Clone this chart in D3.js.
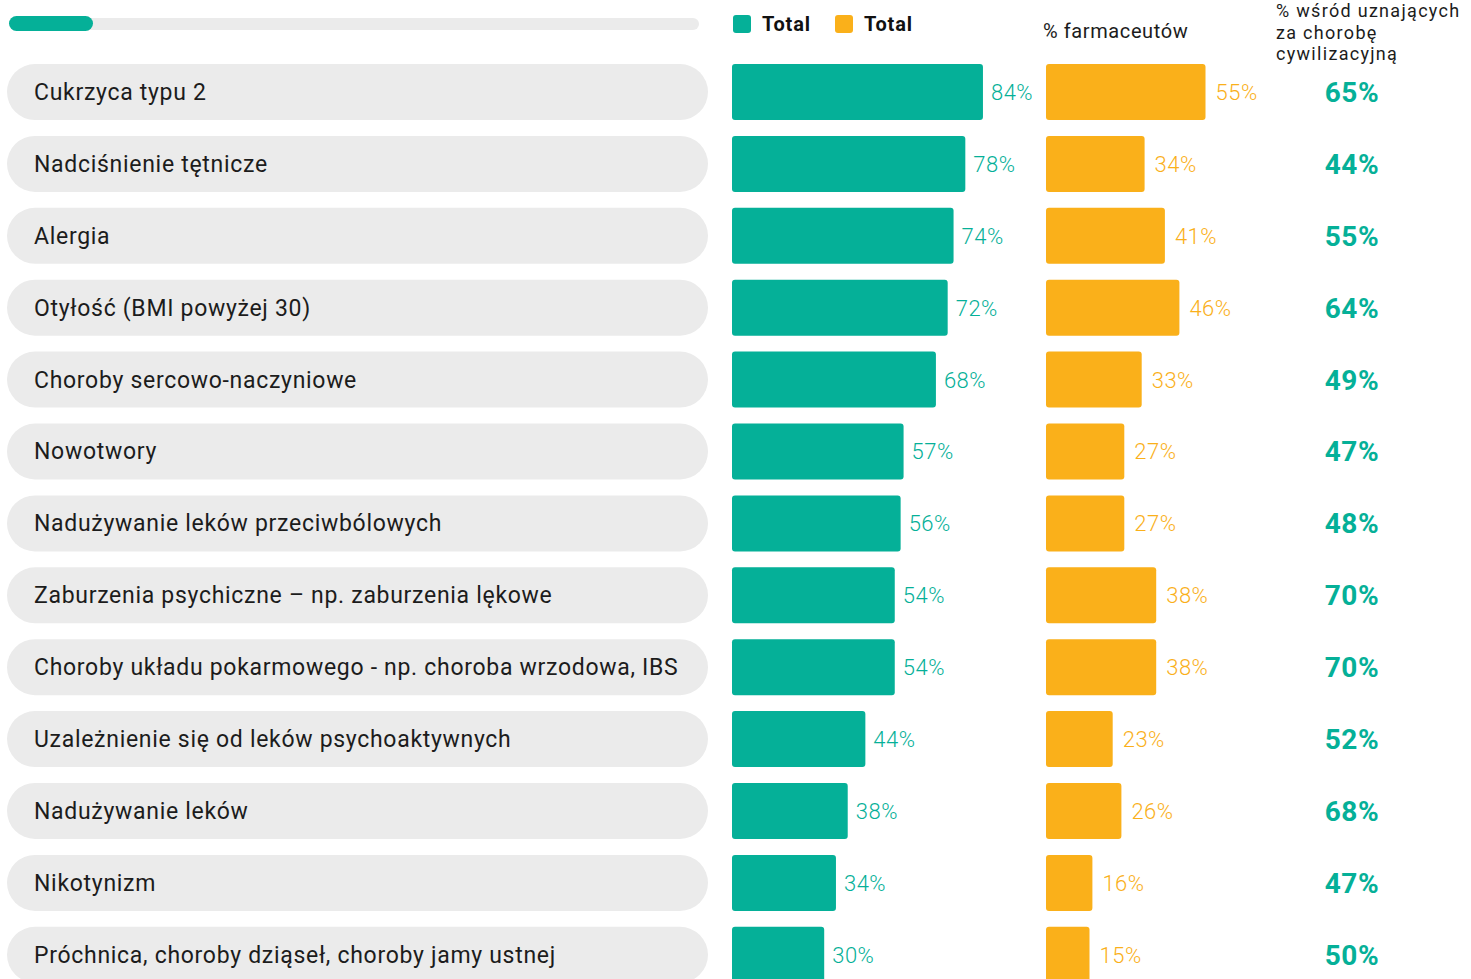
<!DOCTYPE html>
<html>
<head>
<meta charset="utf-8">
<script src="https://cdn.jsdelivr.net/npm/d3@7"></script>
<style>
  html, body { margin: 0; padding: 0; background: #fff; }
  svg { display: block; font-family: Roboto, "Noto Sans", sans-serif; }
</style>
</head>
<body>
<svg id="chart" width="1471" height="979"></svg>
<script>
const categories = [
  "Cukrzyca typu 2",
  "Nadciśnienie tętnicze",
  "Alergia",
  "Otyłość (BMI powyżej 30)",
  "Choroby sercowo-naczyniowe",
  "Nowotwory",
  "Nadużywanie leków przeciwbólowych",
  "Zaburzenia psychiczne – np. zaburzenia lękowe",
  "Choroby układu pokarmowego - np. choroba wrzodowa, IBS",
  "Uzależnienie się od leków psychoaktywnych",
  "Nadużywanie leków",
  "Nikotynizm",
  "Próchnica, choroby dziąseł, choroby jamy ustnej"
];
const totalAll = [84, 78, 74, 72, 68, 57, 56, 54, 54, 44, 38, 34, 30];
const pharmacists = [55, 34, 41, 46, 33, 27, 27, 38, 38, 23, 26, 16, 15];
const civilisation = [65, 44, 55, 64, 49, 47, 48, 70, 70, 52, 68, 47, 50];
const legendLabels = ["Total", "Total"];
const headerPharm = "% farmaceutów";
const headerCiv = ["% wśród uznających", "za chorobę", "cywilizacyjną"];

const TEAL = "#05b098";
const ORANGE = "#fab01a";
const PILL = "#ebebeb";
const INK = "#1c1c1c";

const svg = d3.select("#chart");

const rows = categories.map((c, i) => ({
  cat: c, a: totalAll[i], b: pharmacists[i], c: civilisation[i]
}));

const y = d3.scaleBand()
  .domain(categories)
  .range([64, 64 + 12 * 71.9 + 56])
  .paddingInner(0.221)
  .paddingOuter(0);

// teal bars share a fixed left edge; their length grows from a small stub
const A_LEFT = 732;
const xA = d3.scaleLinear().domain([0, 100]).range([736, 1030]);
const xB = d3.scaleLinear().domain([0, 100]).range([1046, 1336]);

// progress indicator at the top
svg.append("rect")
  .attr("x", 9).attr("y", 18).attr("width", 690).attr("height", 12)
  .attr("rx", 6).attr("fill", PILL);
svg.append("rect")
  .attr("x", 9).attr("y", 16).attr("width", 84).attr("height", 15)
  .attr("rx", 7.5).attr("fill", TEAL);

// legend
const legend = svg.append("g");
[[733, TEAL], [835, ORANGE]].forEach(([lx, col], i) => {
  legend.append("rect")
    .attr("x", lx).attr("y", 15).attr("width", 18).attr("height", 18)
    .attr("rx", 3).attr("fill", col);
  legend.append("text")
    .attr("x", lx + 29).attr("y", 31)
    .attr("font-size", 20).attr("font-weight", 700).attr("fill", "#111")
    .attr("letter-spacing", 0.8)
    .text(legendLabels[i]);
});

// column headers
svg.append("text")
  .attr("x", 1043).attr("y", 38)
  .attr("font-size", 20).attr("fill", INK).attr("letter-spacing", 0.6)
  .text(headerPharm);
svg.append("text")
  .attr("x", 1276).attr("y", 17)
  .attr("font-size", 18).attr("fill", INK).attr("letter-spacing", 1.3)
  .selectAll("tspan").data(headerCiv).join("tspan")
  .attr("x", 1276).attr("dy", (d, i) => i === 0 ? 0 : 21.5)
  .text(d => d);

const g = svg.append("g").selectAll("g").data(rows).join("g")
  .attr("transform", d => `translate(0,${y(d.cat)})`);

const h = y.bandwidth();

// category pills
g.append("rect")
  .attr("x", 7).attr("y", 0).attr("width", 701).attr("height", h)
  .attr("rx", h / 2).attr("fill", PILL);
g.append("text")
  .attr("x", 34).attr("y", h / 2 + 8)
  .attr("font-size", 23).attr("fill", INK).attr("letter-spacing", 0.7)
  .text(d => d.cat);

// total bars
g.append("rect")
  .attr("x", A_LEFT).attr("y", 0)
  .attr("width", d => xA(d.a) - A_LEFT).attr("height", h)
  .attr("rx", 3).attr("fill", TEAL);
g.append("text")
  .attr("x", d => xA(d.a) + 8).attr("y", h / 2 + 8)
  .attr("font-size", 22).attr("font-weight", 300).attr("fill", TEAL)
  .attr("letter-spacing", 0.5)
  .text(d => d.a + "%");

// pharmacist bars
g.append("rect")
  .attr("x", xB(0)).attr("y", 0)
  .attr("width", d => xB(d.b) - xB(0)).attr("height", h)
  .attr("rx", 3).attr("fill", ORANGE);
g.append("text")
  .attr("x", d => xB(d.b) + 10).attr("y", h / 2 + 8)
  .attr("font-size", 22).attr("font-weight", 300).attr("fill", ORANGE)
  .attr("letter-spacing", 0.5)
  .text(d => d.b + "%");

// share among those who consider it a civilisation disease
g.append("text")
  .attr("x", 1352).attr("y", h / 2 + 10)
  .attr("text-anchor", "middle")
  .attr("font-size", 28).attr("font-weight", 700).attr("fill", TEAL)
  .attr("letter-spacing", 0.6)
  .text(d => d.c + "%");
</script>
</body>
</html>
